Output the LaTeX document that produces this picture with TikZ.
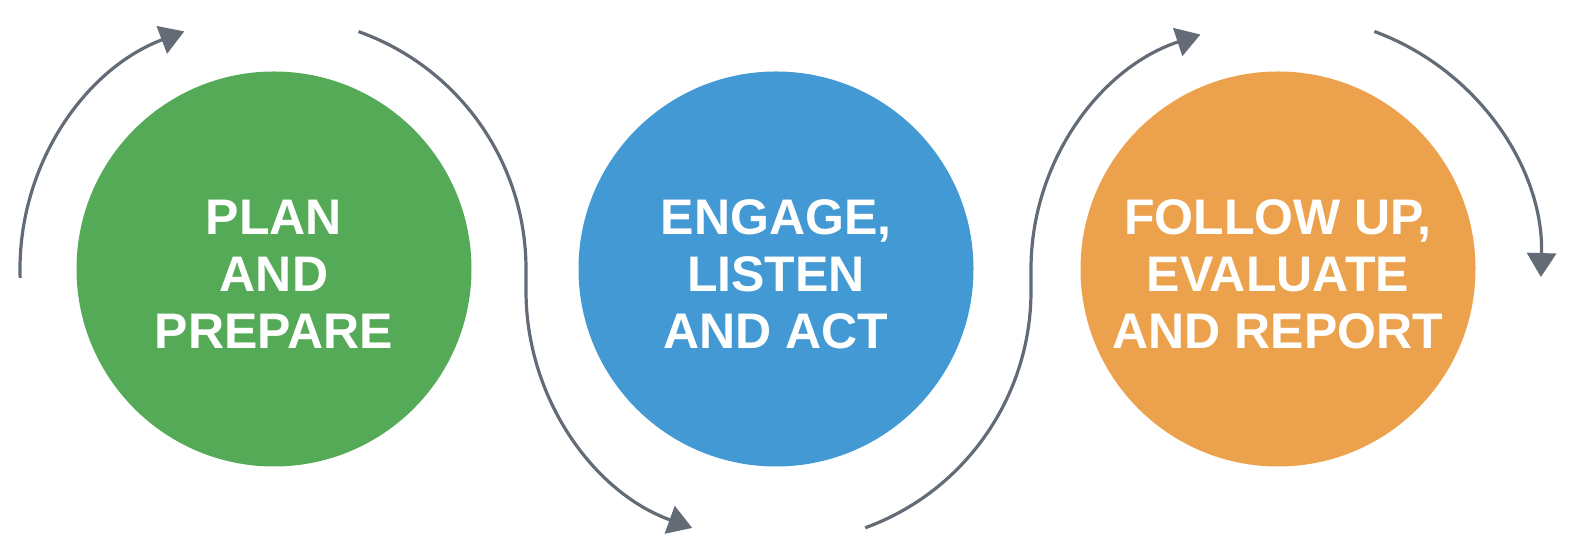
\documentclass[tikz,border=0pt]{standalone}
\usepackage{fontspec}
\setmainfont{Liberation Sans}
\usetikzlibrary{arrows.meta,calc}
\definecolor{cgreen}{HTML}{55AA57}
\definecolor{cblue}{HTML}{4399D3}
\definecolor{corange}{HTML}{ECA14D}
\definecolor{cgray}{HTML}{636B76}
\begin{document}
\begin{tikzpicture}[x=0.5pt,y=0.5pt,
  stage/.style={circle,minimum size=197.5pt,inner sep=0pt},
  label text/.style={text=white,inner sep=0pt,
    font=\bfseries\fontsize{25}{28.5}\selectfont,align=center},
  flow/.style={draw=cgray,line width=1.6pt,-{Triangle[length=12pt,width=14.5pt]}}]
\useasboundingbox (0,0) rectangle (1574,560);
\node[stage,fill=cgreen] (g) at (274,291) {};
\node[stage,fill=cblue] (b) at (776,291) {};
\node[stage,fill=corange] (o) at (1278,291) {};
\node[label text] (gt) at (274,286) {PLAN\\AND\\PREPARE};
\node[label text] (bt) at (776,286) {ENGAGE,\\LISTEN\\AND ACT};
\node[label text] (ot) at (1278,286) {FOLLOW UP,\\EVALUATE\\AND REPORT};
\coordinate (a1) at ($(g.center)+(182:254)$);
\coordinate (a2) at ($(g.center)+(70.4:252)$);
\coordinate (a3) at ($(b.center)+(3,-22)+(-70:252)$);
\coordinate (a4) at ($(o.center)+(9,-1)+(69.9:254)$);
\draw[flow] (a1) arc[start angle=182,end angle=110.7,radius=254];
\draw[flow] (a2) arc[start angle=70.4,end angle=0,radius=252] -- ++(0,-22)
  arc[start angle=180,end angle=250.1,radius=252];
\draw[flow] (a3) arc[start angle=-70,end angle=0,radius=252] -- ++(0,22)
  arc[start angle=180,end angle=108.3,radius=247];
\draw[flow] (a4) arc[start angle=69.9,end angle=-1.6,radius=254];
\end{tikzpicture}
\end{document}
